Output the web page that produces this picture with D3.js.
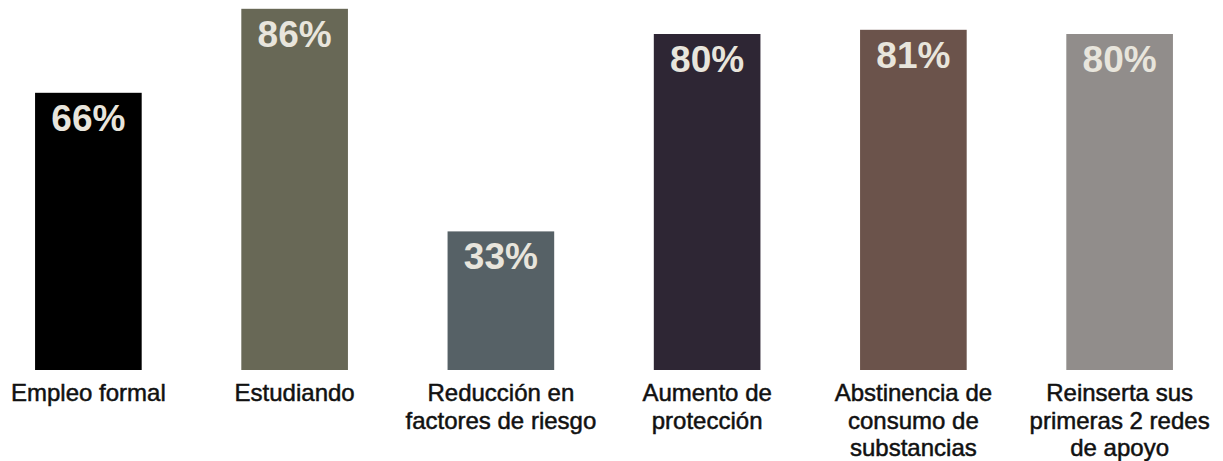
<!DOCTYPE html>
<html>
<head>
<meta charset="utf-8">
<script src="https://cdn.jsdelivr.net/npm/d3@7"></script>
<style>
    body { margin: 0; background: #fff; }
    svg { display: block; }
</style>
</head>
<body>
<div id="chart"></div>
<script>
// chart data
const CATEGORIES = [
    ["Empleo formal"],
    ["Estudiando"],
    ["Reducción en", "factores de riesgo"],
    ["Aumento de", "protección"],
    ["Abstinencia de", "consumo de", "substancias"],
    ["Reinserta sus", "primeras 2 redes", "de apoyo"]
];
const VALUES = [66, 86, 33, 80, 81, 80];
const BAR_COLORS = ["#000000", "#686856", "#566166", "#2e2634", "#6b534b", "#918d8b"];

// dimensions
const WIDTH = 1223;
const HEIGHT = 461;
const BASELINE = 370;

const svg = d3.select("#chart")
    .append("svg")
    .attr("width", WIDTH)
    .attr("height", HEIGHT);

// x scale for categories
const xScale = d3.scaleBand()
    .domain(d3.range(VALUES.length))
    .range([0, 1208])
    .paddingInner(0.483)
    .paddingOuter(0.17);

// y scale for percent
const yScale = d3.scaleLinear()
    .domain([0, 100])
    .range([BASELINE, BASELINE - 420]);

// bars
svg.selectAll(".bar")
    .data(VALUES)
    .enter()
    .append("rect")
    .attr("class", "bar")
    .attr("x", (d, i) => xScale(i))
    .attr("y", d => yScale(d))
    .attr("width", xScale.bandwidth())
    .attr("height", d => yScale(0) - yScale(d))
    .attr("fill", (d, i) => BAR_COLORS[i]);

// percent labels inside the bars
svg.selectAll(".bar-label")
    .data(VALUES)
    .enter()
    .append("text")
    .attr("class", "bar-label")
    .attr("x", (d, i) => xScale(i) + xScale.bandwidth() / 2)
    .attr("y", d => yScale(d) + 38)
    .attr("text-anchor", "middle")
    .attr("font-family", "'Liberation Sans', Arial, sans-serif")
    .attr("font-weight", "bold")
    .attr("font-size", "37px")
    .attr("fill", "#e8e5dc")
    .text(d => d + "%");

// category labels under the bars
const catLabels = svg.selectAll(".cat-label")
    .data(CATEGORIES)
    .enter()
    .append("text")
    .attr("class", "cat-label")
    .attr("text-anchor", "middle")
    .attr("font-family", "'Liberation Sans', Arial, sans-serif")
    .attr("font-size", "24px")
    .attr("fill", "#111")
    .attr("stroke", "#111")
    .attr("stroke-width", 0.5);

catLabels.selectAll("tspan")
    .data((d, i) => d.map(line => ({ line, i })))
    .enter()
    .append("tspan")
    .attr("x", d => xScale(d.i) + xScale.bandwidth() / 2)
    .attr("y", (d, j) => BASELINE + 31 + j * 27.5)
    .text(d => d.line);
</script>
</body>
</html>
